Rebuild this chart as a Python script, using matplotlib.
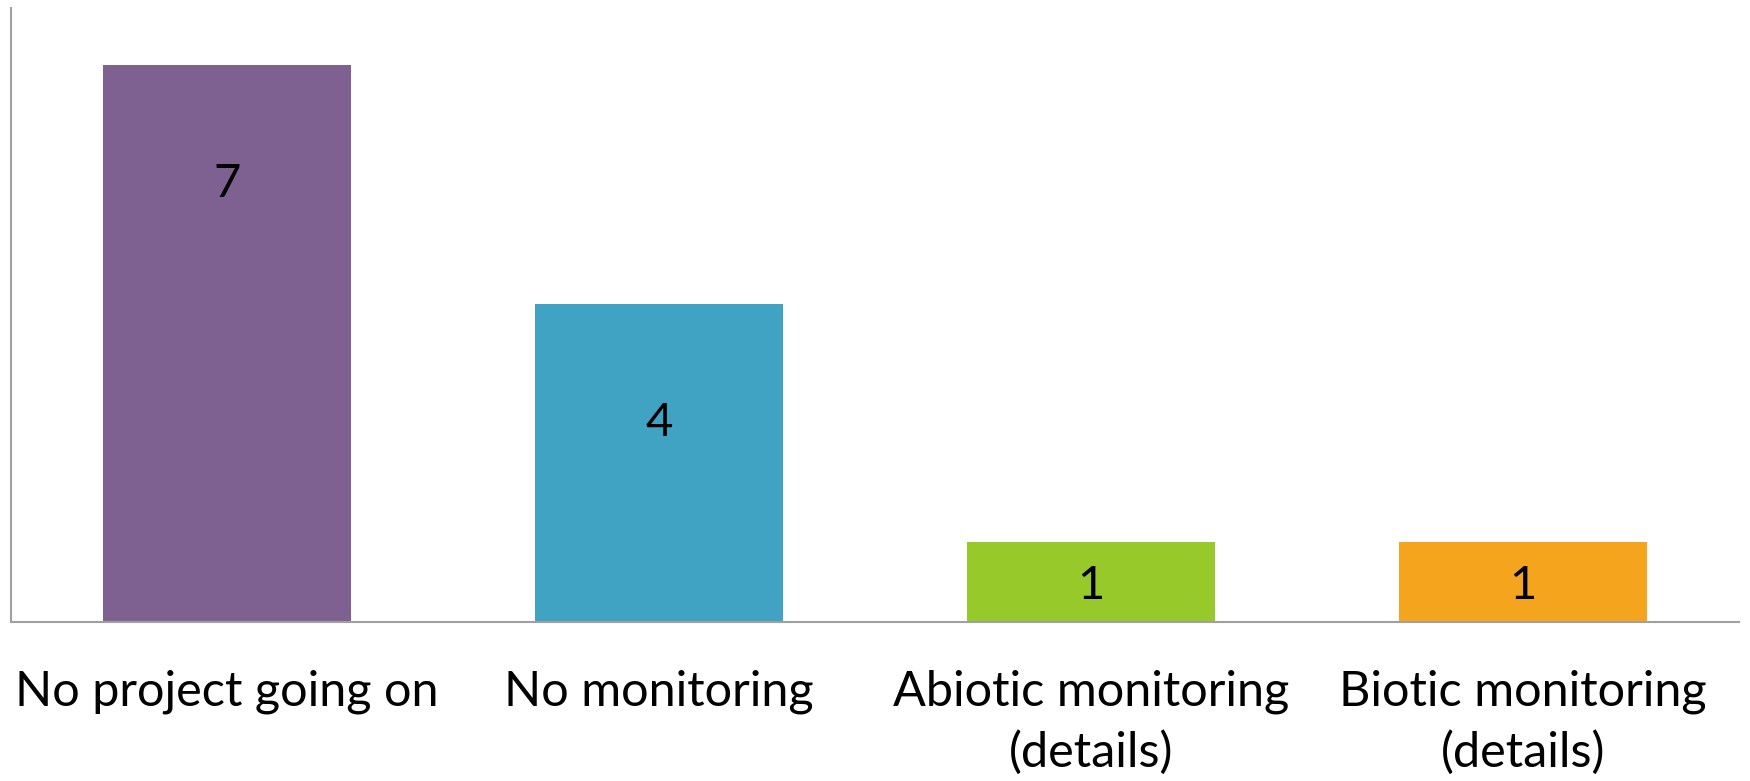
import matplotlib.pyplot as plt
import numpy as np

categories = ['No project going on', 'No monitoring',
              'Abiotic monitoring\n(details)', 'Biotic monitoring\n(details)']
counts = [7, 4, 1, 1]
bar_colors = ['#7E6190', '#41A3C3', '#96C929', '#F4A51D']

plt.rcParams['font.family'] = ['Lato', 'DejaVu Sans']

fig = plt.figure(figsize=(17.5, 7.81), dpi=100)
ax = fig.add_axes([11 / 1750, 1 - 622 / 781, 1728 / 1750, 614 / 781])

x = np.arange(len(categories))
bars = ax.bar(x, counts, width=0.574, color=bar_colors)

ax.set_xlim(-0.5, len(categories) - 0.5)
ax.set_ylim(0, 7.714)

# value labels, Excel style (near top for tall bars, centred for short ones)
for bar, v in zip(bars, counts):
    y = v - 1.5 if v > 2 else v * 0.45
    ax.text(bar.get_x() + bar.get_width() / 2, y, str(v),
            ha='center', va='center', fontsize=34, color='black')

ax.set_xticks(x)
ax.set_xticklabels(categories, fontsize=35, linespacing=1.45)
ax.tick_params(axis='x', length=0, pad=34)
ax.set_yticks([])

for side in ['top', 'right']:
    ax.spines[side].set_visible(False)
for side in ['left', 'bottom']:
    ax.spines[side].set_color('#A0A0A0')
    ax.spines[side].set_linewidth(1.5)

fig.savefig('out.png', dpi=100)
